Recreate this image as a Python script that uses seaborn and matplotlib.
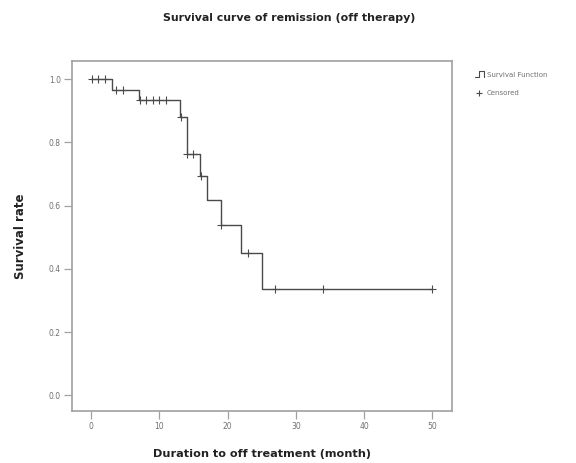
import matplotlib
matplotlib.use("Agg")
import matplotlib.pyplot as plt
import seaborn as sns
import pandas as pd
from matplotlib.lines import Line2D
from matplotlib.legend_handler import HandlerBase

# Step function (Kaplan-Meier) values
step_times = [0, 3, 7, 13, 14, 16, 17, 19, 22, 25, 50]
step_surv = [1.0, 0.967, 0.935, 0.88, 0.762, 0.693, 0.617, 0.540, 0.450, 0.337, 0.337]

# Censored observations
cens_times = [0.2, 1, 2, 3.7, 4.7, 7.2, 8, 9, 10, 11, 13.1, 14.1, 15, 16.1, 19.1, 23, 27, 34, 50]
cens_surv = [1.0, 1.0, 1.0, 0.967, 0.967, 0.935, 0.935, 0.935, 0.935, 0.935, 0.88,
             0.762, 0.762, 0.693, 0.540, 0.450, 0.337, 0.337, 0.337]

x_ticks = [0, 10, 20, 30, 40, 50]
y_ticks = [0.0, 0.2, 0.4, 0.6, 0.8, 1.0]

sns.set_theme(style="white")
plt.rcParams['font.family'] = ['DejaVu Sans']

line_col = "#4a4a4a"
frame_col = "#a0a0a0"
text_col = "#707070"

fig = plt.figure(figsize=(5.76, 4.63), dpi=100)
ax = fig.add_axes([0.125, 0.112, 0.66, 0.756])

step_df = pd.DataFrame({"t": step_times, "s": step_surv})
cens_df = pd.DataFrame({"t": cens_times, "s": cens_surv})

sns.lineplot(data=step_df, x="t", y="s", drawstyle="steps-post", color=line_col,
             linewidth=1.0, ax=ax, legend=False)
sns.scatterplot(data=cens_df, x="t", y="s", marker="+", color=line_col, s=30,
                linewidth=0.8, ax=ax, legend=False, zorder=3)

ax.set_xlim(-2.8, 52.9)
ax.set_ylim(-0.05, 1.057)
ax.set_xticks(x_ticks)
ax.set_xticklabels([str(v) for v in x_ticks])
ax.set_yticks(y_ticks)
ax.set_yticklabels([f"{v:.1f}" for v in y_ticks])

for sp in ax.spines.values():
    sp.set_color(frame_col)
    sp.set_linewidth(1.2)
    sp.set_visible(True)

ax.tick_params(axis="both", which="both", direction="out", length=5.5, width=0.9,
               color=frame_col, labelsize=5.5, labelcolor=text_col, pad=2.5,
               bottom=True, left=True)

ax.set_xlabel("Duration to off treatment (month)", fontsize=8.1, fontweight="bold",
              color="#222222", labelpad=13)
ax.set_ylabel("Survival rate", fontsize=8.5, fontweight="bold", color="#222222", labelpad=16)

fig.text(0.502, 0.961, "Survival curve of remission (off therapy)", ha="center", va="center",
         fontsize=7.9, fontweight="bold", color="#222222")


class StepHandler(HandlerBase):
    def create_artists(self, legend, orig_handle, xdescent, ydescent, width, height, fontsize, trans):
        w = width
        h = height
        xs = [0, w * 0.45, w * 0.45, w, w]
        ys = [-h * 0.1, -h * 0.1, h * 1.2, h * 1.2, -h * 0.1]
        ln = Line2D(xs, ys, color=line_col, linewidth=0.8, transform=trans)
        return [ln]


class StepKey:
    pass


surv_handle = StepKey()
cens_handle = Line2D([], [], marker="+", linestyle="none", color=line_col, markersize=5,
                     markeredgewidth=0.8)

fig.legend([surv_handle, cens_handle], ["Survival Function", "Censored"],
           handler_map={StepKey: StepHandler()},
           loc="upper left", bbox_to_anchor=(0.813, 0.858), frameon=False,
           fontsize=5.0, handlelength=1.3, handletextpad=0.5, labelspacing=1.75,
           labelcolor=text_col)

fig.savefig("out.png", dpi=100)
